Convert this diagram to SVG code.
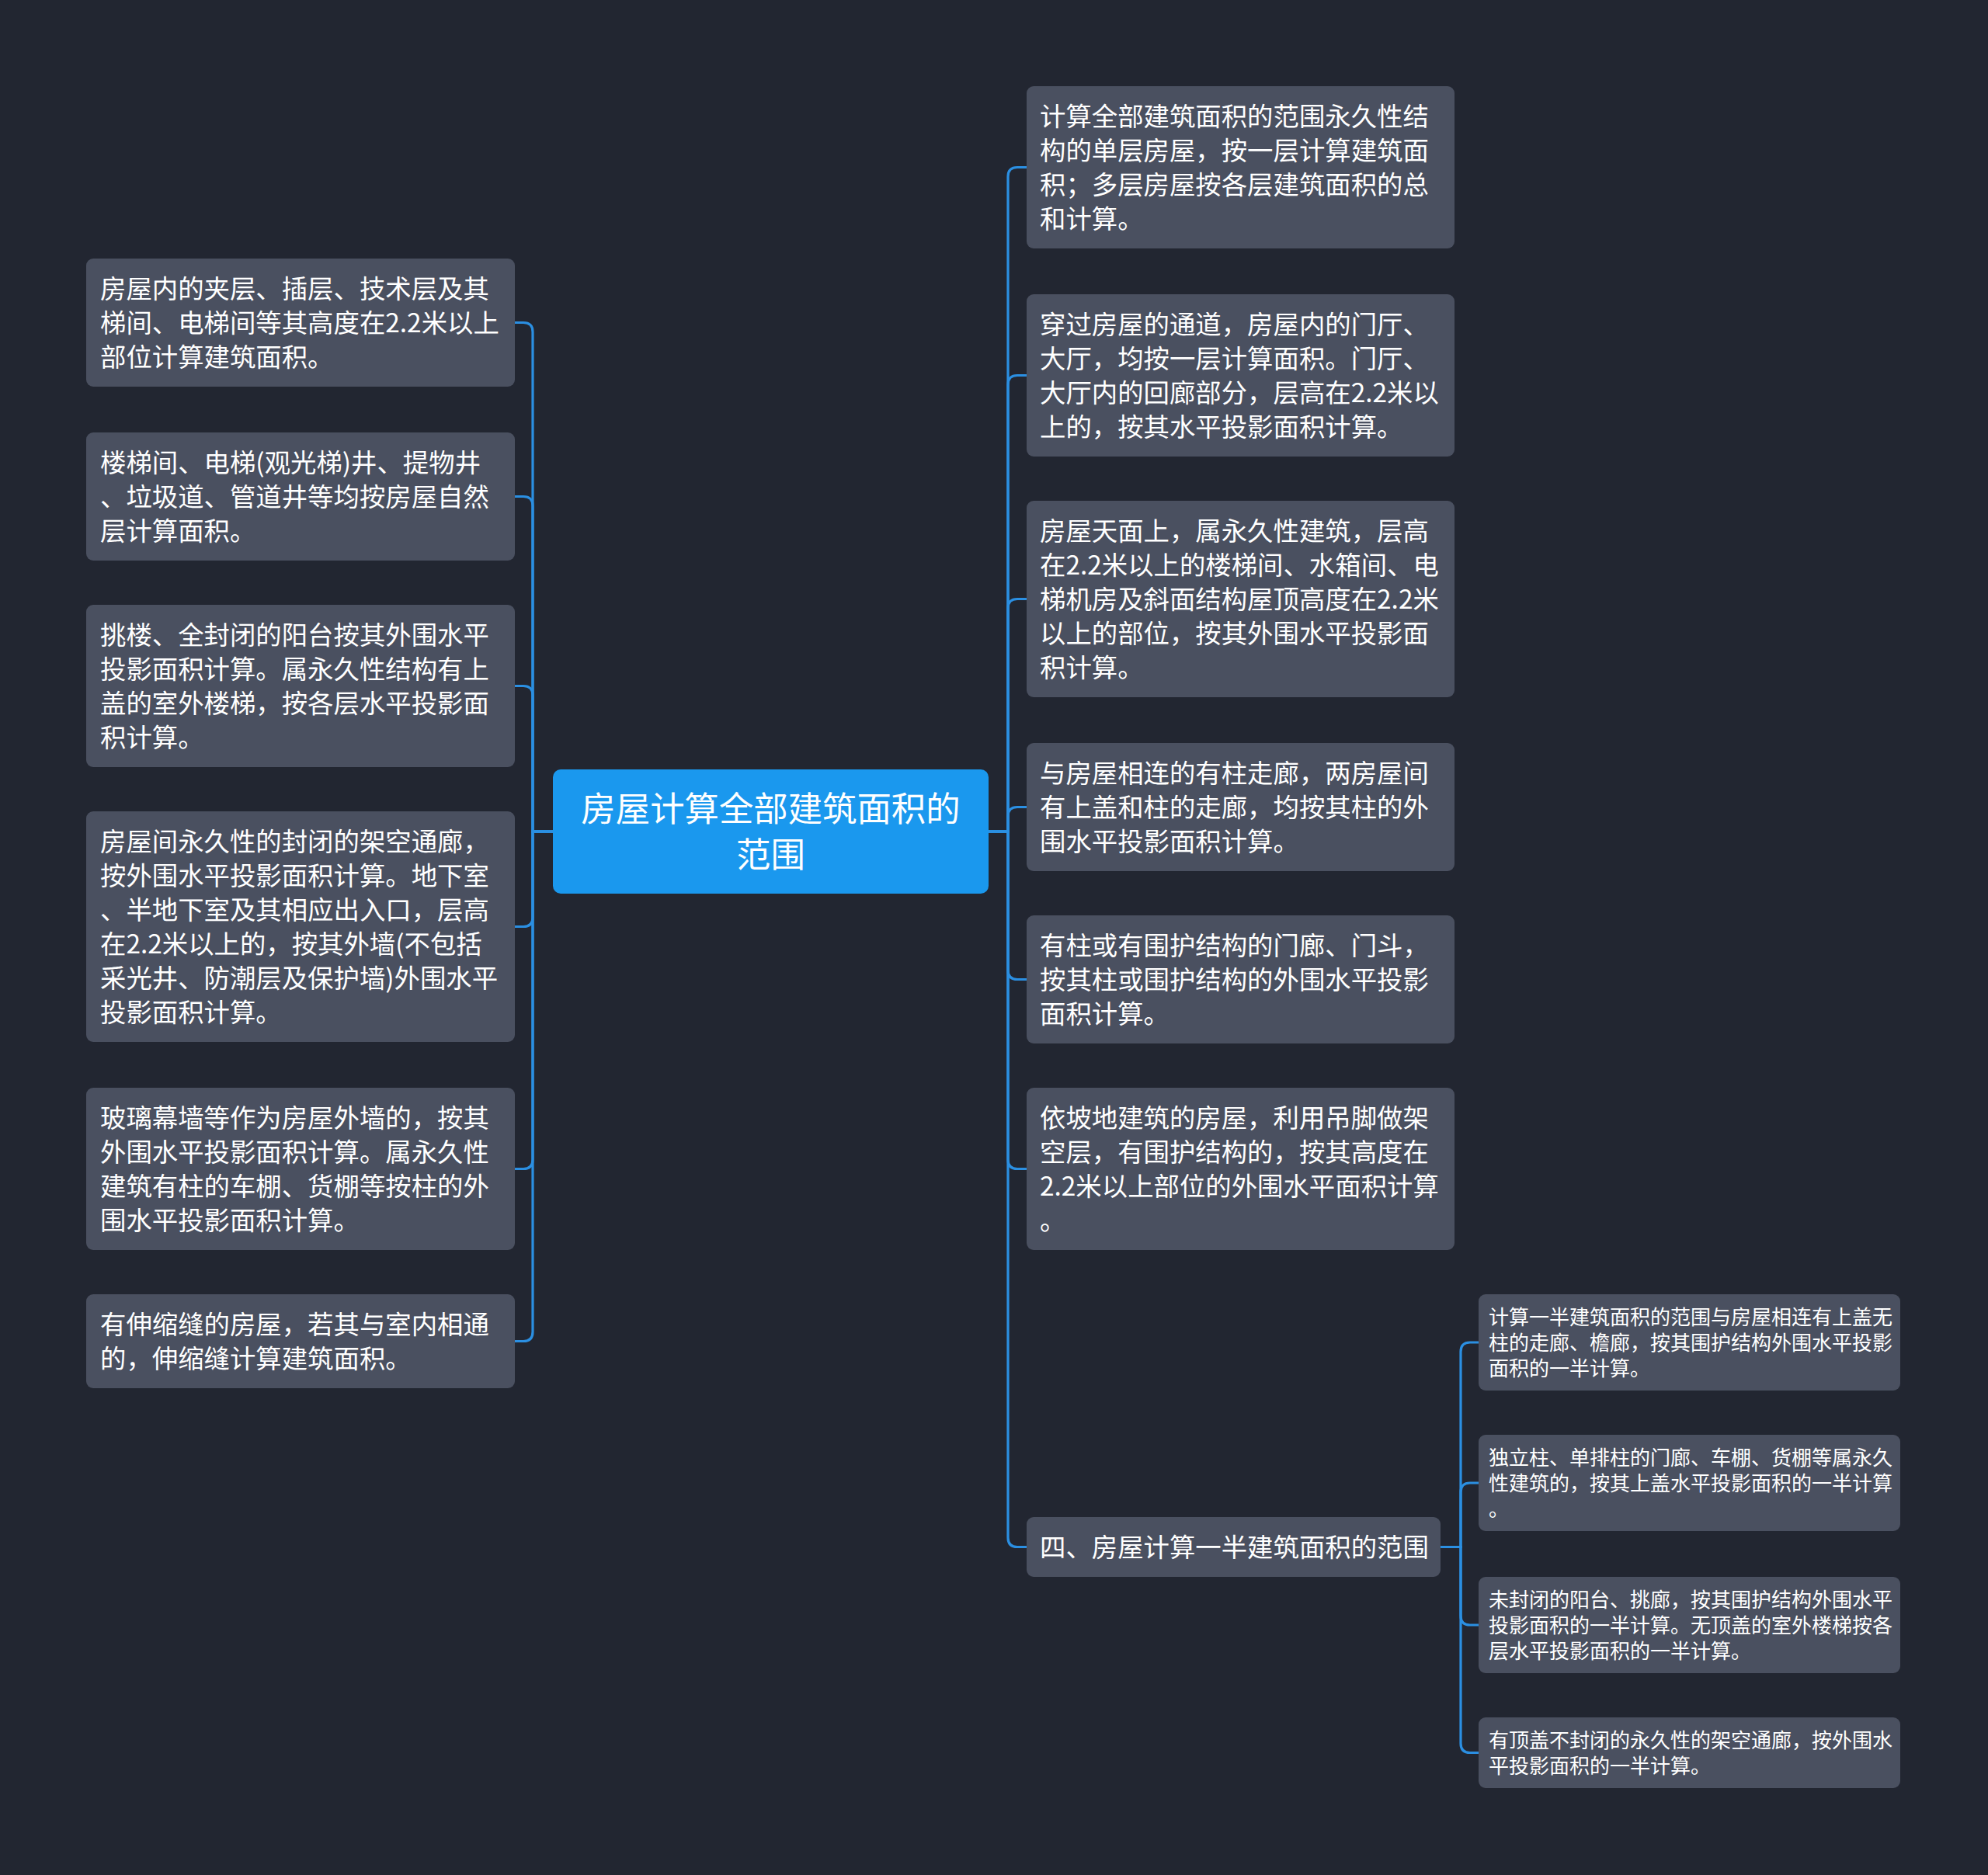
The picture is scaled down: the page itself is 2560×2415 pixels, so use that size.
<svg xmlns="http://www.w3.org/2000/svg" width="2560" height="2415" viewBox="0 0 2560 2415">
<style>
.bg{fill:#222631}
.n rect{fill:#4a5060}
.n text{fill:#ffffff;font-family:"Noto Sans CJK SC","Noto Sans",sans-serif;font-size:33.4px}
.s text{font-size:26px}
.c rect{fill:#1a98ee}
.c text{fill:#ffffff;font-family:"Noto Sans CJK SC","Noto Sans",sans-serif;font-size:44.4px;text-anchor:middle}
.e path{fill:none;stroke:#2b8fe2;stroke-width:3.2}
</style>
<rect class="bg" x="0" y="0" width="2560" height="2415"/>
<g id="connectors" class="e">
<path d="M712 1071 H686 V427.5 Q686 415.5 674 415.5 H663"/>
<path d="M712 1071 H686 V651.5 Q686 639.5 674 639.5 H663"/>
<path d="M712 1071 H686 V895.5 Q686 883.5 674 883.5 H663"/>
<path d="M712 1071 H686 V1181.5 Q686 1193.5 674 1193.5 H663"/>
<path d="M712 1071 H686 V1493.5 Q686 1505.5 674 1505.5 H663"/>
<path d="M712 1071 H686 V1715.5 Q686 1727.5 674 1727.5 H663"/>
<path d="M1273 1071 H1298 V227.5 Q1298 215.5 1310 215.5 H1322"/>
<path d="M1273 1071 H1298 V495.5 Q1298 483.5 1310 483.5 H1322"/>
<path d="M1273 1071 H1298 V783.5 Q1298 771.5 1310 771.5 H1322"/>
<path d="M1273 1071 H1298 V1051.5 Q1298 1039.5 1310 1039.5 H1322"/>
<path d="M1273 1071 H1298 V1249.5 Q1298 1261.5 1310 1261.5 H1322"/>
<path d="M1273 1071 H1298 V1493.5 Q1298 1505.5 1310 1505.5 H1322"/>
<path d="M1273 1071 H1298 V1980.5 Q1298 1992.5 1310 1992.5 H1322"/>
<path d="M1855 1992.5 H1881 V1741 Q1881 1729 1893 1729 H1904"/>
<path d="M1855 1992.5 H1881 V1922 Q1881 1910 1893 1910 H1904"/>
<path d="M1855 1992.5 H1881 V2081 Q1881 2093 1893 2093 H1904"/>
<path d="M1855 1992.5 H1881 V2245.5 Q1881 2257.5 1893 2257.5 H1904"/>
</g>
<g id="center" class="c">
<rect x="712" y="991" width="561" height="160" rx="10"/>
<text x="992.5" y="1058">房屋计算全部建筑面积的</text>
<text x="992.5" y="1117">范围</text>
</g>
<g id="L1" class="n">
<rect x="111" y="333" width="552" height="165" rx="9"/>
<text x="129" y="384">房屋内的夹层、插层、技术层及其</text>
<text x="129" y="428">梯间、电梯间等其高度在2.2米以上</text>
<text x="129" y="472">部位计算建筑面积。</text>
</g>
<g id="L2" class="n">
<rect x="111" y="557" width="552" height="165" rx="9"/>
<text x="129" y="608">楼梯间、电梯(观光梯)井、提物井</text>
<text x="129" y="652">、垃圾道、管道井等均按房屋自然</text>
<text x="129" y="696">层计算面积。</text>
</g>
<g id="L3" class="n">
<rect x="111" y="779" width="552" height="209" rx="9"/>
<text x="129" y="830">挑楼、全封闭的阳台按其外围水平</text>
<text x="129" y="874">投影面积计算。属永久性结构有上</text>
<text x="129" y="918">盖的室外楼梯，按各层水平投影面</text>
<text x="129" y="962">积计算。</text>
</g>
<g id="L4" class="n">
<rect x="111" y="1045" width="552" height="297" rx="9"/>
<text x="129" y="1096">房屋间永久性的封闭的架空通廊，</text>
<text x="129" y="1140">按外围水平投影面积计算。地下室</text>
<text x="129" y="1184">、半地下室及其相应出入口，层高</text>
<text x="129" y="1228">在2.2米以上的，按其外墙(不包括</text>
<text x="129" y="1272">采光井、防潮层及保护墙)外围水平</text>
<text x="129" y="1316">投影面积计算。</text>
</g>
<g id="L5" class="n">
<rect x="111" y="1401" width="552" height="209" rx="9"/>
<text x="129" y="1452">玻璃幕墙等作为房屋外墙的，按其</text>
<text x="129" y="1496">外围水平投影面积计算。属永久性</text>
<text x="129" y="1540">建筑有柱的车棚、货棚等按柱的外</text>
<text x="129" y="1584">围水平投影面积计算。</text>
</g>
<g id="L6" class="n">
<rect x="111" y="1667" width="552" height="121" rx="9"/>
<text x="129" y="1718">有伸缩缝的房屋，若其与室内相通</text>
<text x="129" y="1762">的，伸缩缝计算建筑面积。</text>
</g>
<g id="R1" class="n">
<rect x="1322" y="111" width="551" height="209" rx="9"/>
<text x="1339" y="162">计算全部建筑面积的范围永久性结</text>
<text x="1339" y="206">构的单层房屋，按一层计算建筑面</text>
<text x="1339" y="250">积；多层房屋按各层建筑面积的总</text>
<text x="1339" y="294">和计算。</text>
</g>
<g id="R2" class="n">
<rect x="1322" y="379" width="551" height="209" rx="9"/>
<text x="1339" y="430">穿过房屋的通道，房屋内的门厅、</text>
<text x="1339" y="474">大厅，均按一层计算面积。门厅、</text>
<text x="1339" y="518">大厅内的回廊部分，层高在2.2米以</text>
<text x="1339" y="562">上的，按其水平投影面积计算。</text>
</g>
<g id="R3" class="n">
<rect x="1322" y="645" width="551" height="253" rx="9"/>
<text x="1339" y="696">房屋天面上，属永久性建筑，层高</text>
<text x="1339" y="740">在2.2米以上的楼梯间、水箱间、电</text>
<text x="1339" y="784">梯机房及斜面结构屋顶高度在2.2米</text>
<text x="1339" y="828">以上的部位，按其外围水平投影面</text>
<text x="1339" y="872">积计算。</text>
</g>
<g id="R4" class="n">
<rect x="1322" y="957" width="551" height="165" rx="9"/>
<text x="1339" y="1008">与房屋相连的有柱走廊，两房屋间</text>
<text x="1339" y="1052">有上盖和柱的走廊，均按其柱的外</text>
<text x="1339" y="1096">围水平投影面积计算。</text>
</g>
<g id="R5" class="n">
<rect x="1322" y="1179" width="551" height="165" rx="9"/>
<text x="1339" y="1230">有柱或有围护结构的门廊、门斗，</text>
<text x="1339" y="1274">按其柱或围护结构的外围水平投影</text>
<text x="1339" y="1318">面积计算。</text>
</g>
<g id="R6" class="n">
<rect x="1322" y="1401" width="551" height="209" rx="9"/>
<text x="1339" y="1452">依坡地建筑的房屋，利用吊脚做架</text>
<text x="1339" y="1496">空层，有围护结构的，按其高度在</text>
<text x="1339" y="1540">2.2米以上部位的外围水平面积计算</text>
<text x="1339" y="1584">。</text>
</g>
<g id="R7" class="n">
<rect x="1322" y="1954" width="533" height="77" rx="9"/>
<text x="1339" y="2005">四、房屋计算一半建筑面积的范围</text>
</g>
<g id="S1" class="n s">
<rect x="1904" y="1667" width="543" height="124" rx="9"/>
<text x="1917" y="1706">计算一半建筑面积的范围与房屋相连有上盖无</text>
<text x="1917" y="1739">柱的走廊、檐廊，按其围护结构外围水平投影</text>
<text x="1917" y="1772">面积的一半计算。</text>
</g>
<g id="S2" class="n s">
<rect x="1904" y="1848" width="543" height="124" rx="9"/>
<text x="1917" y="1887">独立柱、单排柱的门廊、车棚、货棚等属永久</text>
<text x="1917" y="1920">性建筑的，按其上盖水平投影面积的一半计算</text>
<text x="1917" y="1953">。</text>
</g>
<g id="S3" class="n s">
<rect x="1904" y="2031" width="543" height="124" rx="9"/>
<text x="1917" y="2070">未封闭的阳台、挑廊，按其围护结构外围水平</text>
<text x="1917" y="2103">投影面积的一半计算。无顶盖的室外楼梯按各</text>
<text x="1917" y="2136">层水平投影面积的一半计算。</text>
</g>
<g id="S4" class="n s">
<rect x="1904" y="2212" width="543" height="91" rx="9"/>
<text x="1917" y="2251">有顶盖不封闭的永久性的架空通廊，按外围水</text>
<text x="1917" y="2284">平投影面积的一半计算。</text>
</g>
</svg>
